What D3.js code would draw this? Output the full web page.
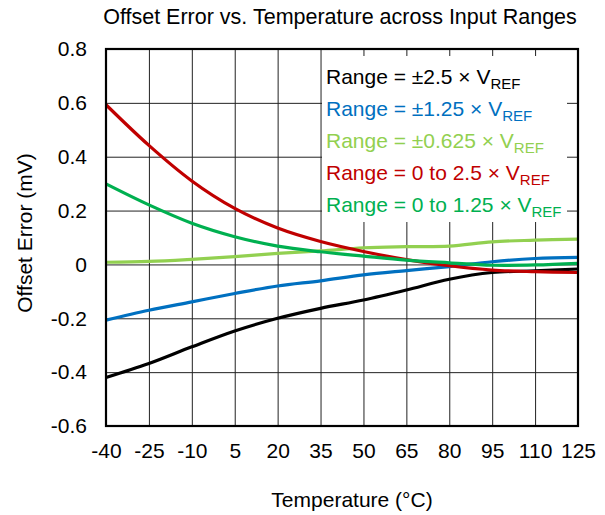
<!DOCTYPE html>
<html>
<head>
<meta charset="utf-8">
<script src="https://cdn.jsdelivr.net/npm/d3@7"></script>
<style>
  body { margin: 0; background: #fff; }
  svg { font-family: "Liberation Sans", Arial, sans-serif; }
</style>
</head>
<body>
<svg id="chart" width="605" height="515"></svg>
<script>
// data
var temps = [-40, -25, -10, 5, 20, 35, 50, 65, 80, 95, 110, 125];
var xTicks = [-40, -25, -10, 5, 20, 35, 50, 65, 80, 95, 110, 125];
var yTicks = [-0.6, -0.4, -0.2, 0, 0.2, 0.4, 0.6, 0.8];

var rangePm25   = [-0.420, -0.368, -0.306, -0.247, -0.200, -0.163, -0.132, -0.095, -0.055, -0.030, -0.024, -0.017];
var rangePm125  = [-0.207, -0.170, -0.139, -0.108, -0.080, -0.061, -0.039, -0.023, -0.008, 0.010, 0.022, 0.026];
var rangePm0625 = [0.008, 0.011, 0.019, 0.029, 0.041, 0.050, 0.062, 0.066, 0.068, 0.084, 0.090, 0.094];
var range0to25  = [0.593, 0.442, 0.310, 0.208, 0.135, 0.085, 0.048, 0.018, -0.005, -0.021, -0.027, -0.030];
var range0to125 = [0.299, 0.221, 0.153, 0.103, 0.068, 0.047, 0.031, 0.016, 0.006, -0.003, -0.002, 0.004];

var seriesNames = ['Range = \u00b12.5 \u00d7 V', 'Range = \u00b11.25 \u00d7 V', 'Range = \u00b10.625 \u00d7 V',
                   'Range = 0 to 2.5 \u00d7 V', 'Range = 0 to 1.25 \u00d7 V'];
var seriesColors = ['#000000', '#0070C0', '#92D050', '#C00000', '#00B050'];
var seriesValues = [rangePm25, rangePm125, rangePm0625, range0to25, range0to125];

var margin = {left: 106, right: 27, top: 49, bottom: 89};
var W = 605, H = 515;
var w = W - margin.left - margin.right;
var h = H - margin.top - margin.bottom;

var svg = d3.select('#chart');

var x = d3.scaleLinear().domain([-40, 125]).range([0, w]);
var y = d3.scaleLinear().domain([-0.6, 0.8]).range([h, 0]);

var g = svg.append('g').attr('transform', 'translate(' + margin.left + ',' + margin.top + ')');

// plain hyphen minus like the original, not d3's unicode minus
function fmtX(d) { return String(d); }
function fmtY(d) { return d === 0 ? '0' : d.toFixed(1); }

// axes double as gridlines
var xAxis = g.append('g')
  .attr('transform', 'translate(0,' + h + ')')
  .call(d3.axisBottom(x).tickValues(xTicks).tickSizeInner(-h).tickSizeOuter(0).tickPadding(17)
    .tickFormat(fmtX));
var yAxis = g.append('g')
  .call(d3.axisLeft(y).tickValues(yTicks).tickSizeInner(-w).tickSizeOuter(0).tickPadding(19)
    .tickFormat(fmtY));

[xAxis, yAxis].forEach(function(a) {
  a.select('.domain').remove();
  a.selectAll('.tick line').attr('stroke', '#222').attr('stroke-width', 1);
  a.selectAll('.tick text').attr('font-size', 21).attr('fill', '#000')
    .attr('font-family', '"Liberation Sans", Arial, sans-serif');
});

// legend box hides the grid behind it
var legend = g.append('g').attr('transform', 'translate(' + (322 - margin.left) + ',' + (56 - margin.top) + ')');
legend.append('rect').attr('width', 245).attr('height', 166).attr('fill', '#fff');

var line = d3.line()
  .x(function(d, i) { return x(temps[i]); })
  .y(function(d) { return y(d); })
  .curve(d3.curveCatmullRom.alpha(0));

g.selectAll('path.series')
  .data(seriesValues)
  .enter().append('path')
  .attr('class', 'series')
  .attr('d', line)
  .attr('fill', 'none')
  .attr('stroke', function(d, i) { return seriesColors[i]; })
  .attr('stroke-width', 3.2);

var items = legend.selectAll('text.item')
  .data(seriesNames)
  .enter().append('text')
  .attr('class', 'item')
  .attr('x', 4)
  .attr('y', function(d, i) { return 28 + i * 32; })
  .attr('font-size', 21)
  .attr('fill', function(d, i) { return seriesColors[i]; });
items.append('tspan').text(function(d) { return d; });
items.append('tspan').attr('font-size', 15).attr('dy', 5).text('REF');

// plot frame
g.append('rect').attr('width', w).attr('height', h)
  .attr('fill', 'none').attr('stroke', '#000').attr('stroke-width', 2.2);

svg.append('text')
  .attr('x', 340).attr('y', 24)
  .attr('text-anchor', 'middle').attr('font-size', 21.5)
  .text('Offset Error vs. Temperature across Input Ranges');

svg.append('text')
  .attr('x', 352).attr('y', 507)
  .attr('text-anchor', 'middle').attr('font-size', 21)
  .text('Temperature (\u00b0C)');

svg.append('text')
  .attr('transform', 'translate(32,233) rotate(-90)')
  .attr('text-anchor', 'middle').attr('font-size', 21)
  .text('Offset Error (mV)');
</script>
</body>
</html>
